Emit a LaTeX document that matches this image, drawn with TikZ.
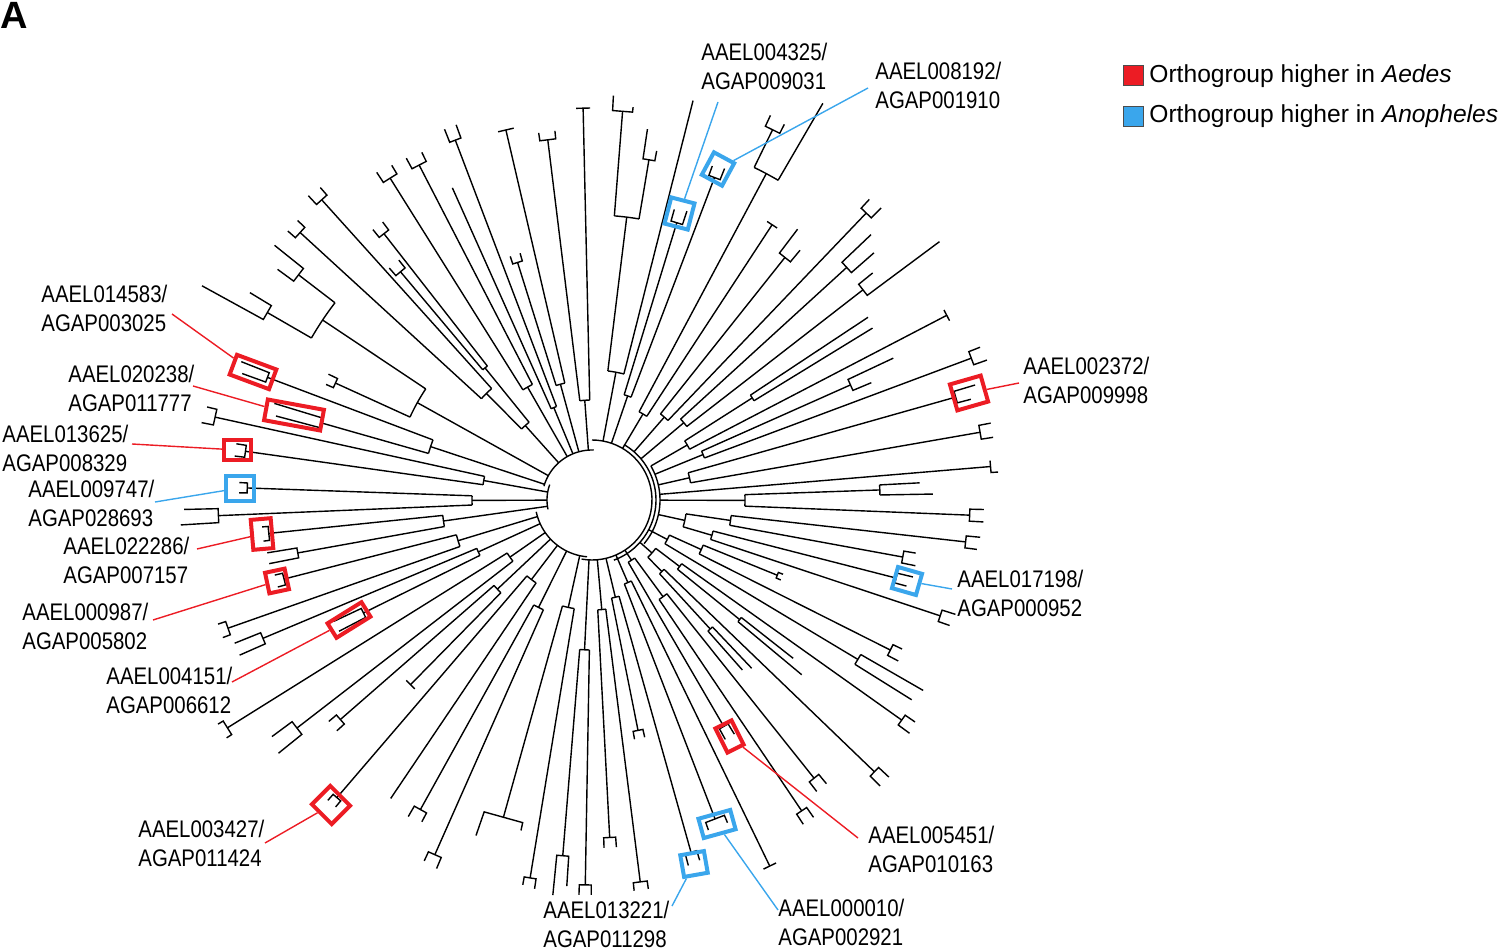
\documentclass[tikz,border=0pt]{standalone}
\usepackage{fontspec}
\setmainfont{Liberation Sans}
\newfontfamily\labfont[FakeStretch=0.85]{Liberation Sans}
\usetikzlibrary{calc}
\definecolor{ared}{RGB}{236,28,36}
\definecolor{ablue}{RGB}{58,166,236}
\tikzset{
  tree/.style={line width=0.7pt, black},
  rbox/.style={draw=ared, line width=2pt, inner sep=0pt},
  bbox/.style={draw=ablue, line width=2pt, inner sep=0pt},
  rlead/.style={draw=ared, line width=0.7pt},
  blead/.style={draw=ablue, line width=0.7pt},
  lab/.style={font=\labfont\fontsize{12}{14.3}\selectfont, anchor=north west, inner sep=0pt, align=left},
  leg/.style={font=\fontsize{12.3}{14}\selectfont, anchor=base west, inner sep=0pt},
}
% leaf: angle, start radius, tip radius, half bar width, stub1, stub2
\newcommand\lf[6]{%
  \draw[tree] (#1:#2) -- (#1:#3);
  \draw[tree] ({#1-deg(#4/#3)}:{#3+#5}) -- ({#1-deg(#4/#3)}:#3) -- ({#1+deg(#4/#3)}:#3) -- ({#1+deg(#4/#3)}:{#3+#6});
}
% pair join: angle1, angle2, join radius, inner radius
\newcommand\pr[4]{%
  \draw[tree] plot[domain=#1:#2, samples=10] (\x:#3);
  \draw[tree] ({(#1+#2)/2}:#4) -- ({(#1+#2)/2}:#3);
}
\newcommand\ringarc[3]{\draw[tree] plot[domain=#2:#3, samples=40] (\x:#1);}
\begin{document}
\begin{tikzpicture}[x=0.5pt, y=-0.5pt]
\useasboundingbox (0,0) rectangle (1500,952);
\node[anchor=base west, inner sep=0pt, font=\bfseries\fontsize{19}{20}\selectfont] (title) at (0,29) {A};

\begin{scope}[shift={(592,500)}]
% ring
\ringarc{45}{168}{200}
\ringarc{50}{196}{272}
\ringarc{60}{270}{460}
\ringarc{64}{300}{430}
\ringarc{68}{330}{400}
\ringarc{57}{95}{168}
% East
\pr{357}{359}{288}{153}
\lf{357}{288}{328}{0}{0}{0}
\lf{359}{288}{341}{0}{0}{0}
\pr{358}{362.3}{153}{68}
\lf{362.3}{153}{378}{6}{14}{14}
\pr{366.4}{370.4}{140}{95}
\lf{366.4}{140}{376}{6}{14}{12}
\lf{370.4}{140}{316}{6}{12}{14}
\pr{374.4}{378.4}{125}{95}
\lf{374.4}{125}{314}{5}{16}{12}
\lf{378.4}{125}{367}{6}{14}{12}
\pr{368.4}{376.4}{95}{68}
\pr{382.1}{386.7}{120}{85}
\lf{382.1}{120}{200}{3}{5}{5}
\lf{386.7}{120}{334}{6}{10}{12}
\pr{389.9}{392}{310}{85}
\lf{389.9}{310}{382}{0}{0}{0}
\lf{392}{310}{377}{0}{0}{0}
\pr{384.4}{390.95}{85}{64}
\pr{395.4}{399}{110}{80}
\lf{395.4}{110}{380}{6}{12}{14}
\pr{398.2}{399.8}{190}{110}
\lf{398.2}{190}{256}{0}{0}{0}
\lf{399.8}{190}{273}{0}{0}{0}
\pr{403.9}{407.5}{100}{80}
\lf{403.9}{100}{392}{6}{14}{14}
\pr{406.5}{408.5}{175}{100}
\lf{406.5}{175}{232}{0}{0}{0}
\lf{408.5}{175}{227}{0}{0}{0}
\pr{397.2}{405.7}{80}{64}
\pr{411.4}{416}{120}{72}
\lf{411.4}{120}{356}{6}{12}{12}
\lf{416}{120}{375}{6}{12}{12}
\lf{419.8}{72}{262}{5}{12}{12}
\pr{413.7}{419.8}{72}{60}
% South
\pr{64.1}{68.9}{90}{60}
\lf{64.1}{90}{407}{7}{0}{0}
\lf{68.9}{90}{342}{10}{8}{8}
\pr{74.3}{78.7}{100}{60}
\lf{74.3}{100}{366}{6}{10}{12}
\lf{78.7}{100}{235}{5}{8}{8}
\pr{82.8}{87}{110}{60}
\lf{82.8}{110}{385}{7}{8}{8}
\lf{87}{110}{338}{6}{10}{10}
\pr{91}{94.7}{150}{60}
\lf{91}{150}{385}{6}{10}{10}
\lf{94.7}{150}{357}{6}{30}{40}
\pr{99.3}{105.6}{110}{57}
\lf{99.3}{110}{383}{6}{10}{8}
\lf{105.6}{110}{330}{20}{8}{25}
% South-west
\pr{113.9}{119}{120}{57}
\lf{113.9}{120}{388}{7}{12}{10}
\lf{119}{120}{354}{7}{10}{12}
\pr{124}{130.6}{100}{57}
\lf{124}{100}{360}{0}{0}{0}
\lf{130.6}{100}{392}{5}{8}{8}
\pr{134.5}{138.9}{130}{57}
\lf{134.5}{130}{259}{6}{0}{0}
\lf{138.9}{130}{334}{6}{10}{10}
\pr{142.3}{148}{100}{57}
\lf{142.3}{100}{373}{8}{30}{25}
\lf{148}{100}{430}{8}{6}{6}
\pr{153.7}{157.2}{125}{57}
\lf{153.7}{125}{255}{5}{30}{30}
\lf{157.2}{125}{357}{6}{28}{28}
\pr{160.6}{165.6}{140}{57}
\lf{160.6}{140}{386}{7}{8}{8}
\lf{165.6}{140}{318}{6}{8}{8}
\pr{169.8}{174.1}{150}{45}
\lf{169.8}{150}{299}{5}{30}{30}
\lf{174.1}{150}{325}{7}{6}{6}
% West
\pr{177.6}{182}{120}{45}
\lf{177.6}{120}{374}{7}{38}{34}
\lf{182}{120}{345}{5}{8}{8}
\pr{188}{192.4}{110}{45}
\lf{188}{110}{350}{6}{10}{10}
\lf{192.4}{110}{386}{8}{12}{10}
\pr{195.9}{200.7}{170}{50}
\lf{195.9}{170}{282}{5}{45}{50}
\lf{200.7}{170}{347}{5}{25}{30}
\pr{210}{217.5}{324}{200}
\lf{210}{324}{375}{8}{70}{25}
\lf{217.5}{324}{370}{8}{20}{37}
\pr{204.5}{213.75}{200}{50}
\lf{204.5}{200}{282}{5}{8}{10}
\pr{222.5}{228}{150}{100}
\lf{222.5}{150}{396}{7}{10}{10}
\lf{228}{150}{404}{7}{12}{10}
\pr{230}{232}{170}{100}
\lf{230}{170}{298}{6}{10}{10}
\lf{232}{170}{338}{6}{10}{10}
\pr{225.25}{231}{100}{50}
% North-west / North
\pr{237.9}{242.7}{130}{50}
\lf{237.9}{130}{380}{8}{12}{10}
\lf{242.7}{130}{377}{8}{12}{10}
\pr{245.9}{249.2}{100}{50}
\lf{245.9}{100}{342}{0}{0}{0}
\lf{249.2}{100}{385}{6}{14}{14}
\pr{252.6}{256.9}{120}{50}
\lf{252.6}{120}{249}{5}{8}{8}
\lf{256.9}{120}{380}{8}{0}{0}
\pr{263}{268.7}{100}{50}
\lf{263}{100}{363}{8}{8}{8}
\lf{268.7}{100}{392}{7}{0}{0}
% North-east
\pr{274.5}{279.5}{285}{130}
\lf{274.5}{285}{390}{10}{15}{5}
\lf{279.5}{285}{345}{6}{30}{10}
\pr{277}{284.2}{130}{60}
\lf{284.2}{130}{412}{0}{0}{0}
\pr{287}{290.8}{110}{60}
\lf{287}{110}{290}{6}{12}{14}
\lf{290.8}{110}{345}{6}{10}{12}
\pr{296}{300.2}{370}{100}
\lf{296}{370}{412}{8}{12}{10}
\lf{300.2}{370}{459}{0}{0}{0}
\pr{298.1}{303.2}{100}{60}
\lf{303.2}{100}{329}{6}{0}{0}
\pr{308.5}{313.7}{110}{64}
\lf{308.5}{110}{310}{7}{30}{15}
\lf{313.7}{110}{397}{7}{12}{14}
\pr{317.6}{322.2}{120}{64}
\lf{317.6}{120}{345}{7}{40}{30}
\lf{322.2}{120}{343}{7}{18}{90}
\pr{326.5}{328.5}{190}{110}
\lf{326.5}{190}{331}{0}{0}{0}
\lf{328.5}{190}{329}{0}{0}{0}
\pr{327.5}{332.5}{110}{68}
\lf{332.5}{110}{400}{6}{0}{0}
\pr{336}{339.5}{120}{68}
\lf{336}{120}{283}{6}{50}{20}
\lf{339.5}{120}{405}{7}{12}{14}
\pr{344.2}{350.1}{100}{68}
\lf{344.2}{100}{378}{6}{22}{14}
\lf{350.1}{100}{394}{7}{12}{12}
\lf{355.2}{68}{400}{6}{0}{7}
\end{scope}

% highlight boxes
\node[bbox, minimum width=12pt, minimum height=13.5pt, rotate=-14.5] (b1) at (679.5,213.5) {};
\node[bbox, minimum width=11.5pt, minimum height=12.75pt, rotate=-28.4] (b2) at (718,169) {};
\node[rbox, minimum width=21pt, minimum height=10.5pt, rotate=-20.4] (b3) at (253,372) {};
\node[rbox, minimum width=28.5pt, minimum height=10.5pt, rotate=-10.4] (b4) at (294,415) {};
\node[rbox, minimum width=13.5pt, minimum height=10pt] (b5) at (237.5,450) {};
\node[bbox, minimum width=14pt, minimum height=12.5pt] (b6) at (240,488) {};
\node[rbox, minimum width=10pt, minimum height=15pt, rotate=5] (b7) at (262,534) {};
\node[rbox, minimum width=10pt, minimum height=10.5pt, rotate=12] (b8) at (277,581) {};
\node[rbox, minimum width=20pt, minimum height=8.5pt, rotate=31.9] (b9) at (349,620) {};
\node[rbox, minimum width=13pt, minimum height=14pt, rotate=45] (b10) at (331,805) {};
\node[bbox, minimum width=12pt, minimum height=11pt, rotate=10] (b11) at (694,864) {};
\node[bbox, minimum width=16.5pt, minimum height=10pt, rotate=15.5] (b12) at (717,824) {};
\node[rbox, minimum width=9pt, minimum height=13.5pt, rotate=26.6] (b13) at (729.5,736.5) {};
\node[bbox, minimum width=12.5pt, minimum height=11pt, rotate=-16] (b14) at (907,581) {};
\node[rbox, minimum width=16pt, minimum height=13.5pt, rotate=16] (b15) at (969,393) {};

% labels
\node[lab] (l1) at (701,43) {AAEL004325/\\AGAP009031};
\node[lab] (l2) at (875,62) {AAEL008192/\\AGAP001910};
\node[lab] (l3) at (41,285) {AAEL014583/\\AGAP003025};
\node[lab] (l4) at (68,365) {AAEL020238/\\AGAP011777};
\node[lab] (l5) at (2,425) {AAEL013625/\\AGAP008329};
\node[lab] (l6) at (28,480) {AAEL009747/\\AGAP028693};
\node[lab] (l7) at (63,537) {AAEL022286/\\AGAP007157};
\node[lab] (l8) at (22,603) {AAEL000987/\\AGAP005802};
\node[lab] (l9) at (106,667) {AAEL004151/\\AGAP006612};
\node[lab] (l10) at (138,820) {AAEL003427/\\AGAP011424};
\node[lab] (l11) at (543,901) {AAEL013221/\\AGAP011298};
\node[lab] (l12) at (778,899) {AAEL000010/\\AGAP002921};
\node[lab] (l13) at (868,826) {AAEL005451/\\AGAP010163};
\node[lab] (l14) at (957,570) {AAEL017198/\\AGAP000952};
\node[lab] (l15) at (1023,357) {AAEL002372/\\AGAP009998};

% leader ends
\coordinate (c1) at (718,102);
\coordinate (c2) at (868,88);
\coordinate (c3) at (172,314);
\coordinate (c4) at (193,386);
\coordinate (c5) at (132,444);
\coordinate (c6) at (155,502);
\coordinate (c7) at (197,549);
\coordinate (c8) at (153,620);
\coordinate (c9) at (232,682);
\coordinate (c10) at (265,843);
\coordinate (c11) at (672,906);
\coordinate (c12) at (778,910);
\coordinate (c13) at (858,838);
\coordinate (c14) at (952,589);
\coordinate (c15) at (1019,383);
\draw[blead] (c1) -- (b1);
\draw[blead] (c2) -- (b2);
\draw[rlead] (c3) -- (b3);
\draw[rlead] (c4) -- (b4);
\draw[rlead] (c5) -- (b5);
\draw[blead] (c6) -- (b6);
\draw[rlead] (c7) -- (b7);
\draw[rlead] (c8) -- (b8);
\draw[rlead] (c9) -- (b9);
\draw[rlead] (c10) -- (b10);
\draw[blead] (c11) -- (b11);
\draw[blead] (c12) -- (b12);
\draw[rlead] (c13) -- (b13);
\draw[blead] (c14) -- (b14);
\draw[rlead] (c15) -- (b15);

% legend
\node[draw=black!70, fill=ared, line width=0.4pt, minimum size=10pt, inner sep=0pt] (kr) at (1133,75) {};
\node[draw=black!70, fill=ablue, line width=0.4pt, minimum size=10pt, inner sep=0pt] (kb) at (1133,116) {};
\node[leg] (tr) at (1149,83) {Orthogroup higher in \textit{Aedes}};
\node[leg] (tb) at (1149,123) {Orthogroup higher in \textit{Anopheles}};
\end{tikzpicture}
\end{document}
